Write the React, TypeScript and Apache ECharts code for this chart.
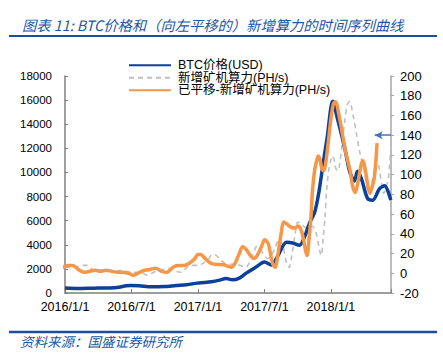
import React, { useEffect, useRef } from "react";
import * as echarts from "echarts";

const TITLE = "图表 11: BTC价格和（向左平移的）新增算力的时间序列曲线";
const SOURCE = "资料来源：国盛证券研究所";

const SERIES_NAMES = ["BTC价格(USD)", "新增矿机算力(PH/s)", "已平移-新增矿机算力(PH/s)"];

// BTC price (USD), left axis
const priceDates = [
  "2016-01-01", "2016-02-08", "2016-03-18", "2016-04-30", "2016-05-28", "2016-06-16", "2016-06-30",
  "2016-07-22", "2016-08-27", "2016-09-30", "2016-11-02", "2016-11-30", "2016-12-30", "2017-01-18",
  "2017-02-07", "2017-02-28", "2017-03-18", "2017-04-04", "2017-04-23", "2017-05-12", "2017-06-09",
  "2017-07-01", "2017-07-20", "2017-08-06", "2017-09-01", "2017-09-17", "2017-10-06", "2017-10-20",
  "2017-11-03", "2017-11-17", "2017-11-28", "2017-12-09", "2017-12-22", "2018-01-06", "2018-01-19",
  "2018-02-08", "2018-02-21", "2018-03-05", "2018-03-13", "2018-03-24", "2018-04-10", "2018-04-24",
  "2018-05-13", "2018-05-27", "2018-06-13",
];
const priceValues = [
  420, 380, 400, 420, 480, 600, 620,
  600, 520, 540, 620, 680, 820, 870,
  940, 1070, 1200, 1100, 1240, 1650, 2170,
  2580, 2320, 3000, 4200, 4150, 3960, 4650,
  5800, 6700, 8300, 10500, 13000, 15900, 14500,
  12000, 10000, 9300, 10100, 9500, 7850, 7700,
  8650, 8900, 7700,
];

// New mining hash rate (PH/s), right axis
const hashDates = [
  "2016-01-01", "2016-01-15", "2016-02-01", "2016-02-15", "2016-03-01", "2016-03-15", "2016-04-01",
  "2016-04-15", "2016-05-01", "2016-05-15", "2016-06-01", "2016-06-15", "2016-07-01", "2016-07-15",
  "2016-08-01", "2016-08-15", "2016-09-01", "2016-09-15", "2016-10-01", "2016-10-15", "2016-11-01",
  "2016-11-15", "2016-12-01", "2016-12-15",
  "2017-01-01", "2017-01-15", "2017-02-01", "2017-02-08", "2017-02-15", "2017-03-01", "2017-03-15",
  "2017-04-01", "2017-04-15", "2017-05-01", "2017-05-10", "2017-05-20", "2017-06-01", "2017-06-10",
  "2017-06-20", "2017-07-01", "2017-07-10", "2017-07-20", "2017-08-01", "2017-08-10", "2017-08-20",
  "2017-09-01", "2017-09-08", "2017-09-15", "2017-09-25", "2017-10-01", "2017-10-10", "2017-10-20",
  "2017-11-01", "2017-11-10", "2017-11-20", "2017-12-01", "2017-12-05", "2017-12-10", "2017-12-15",
  "2017-12-20", "2017-12-26",
  "2018-01-01", "2018-01-05", "2018-01-10", "2018-01-15", "2018-01-20", "2018-01-25", "2018-02-01",
  "2018-02-08", "2018-02-15", "2018-02-20", "2018-03-01", "2018-03-10", "2018-03-20", "2018-04-01",
  "2018-04-08", "2018-04-15", "2018-04-22", "2018-05-01", "2018-05-06", "2018-05-12", "2018-05-20",
  "2018-05-25", "2018-06-01", "2018-06-07", "2018-06-14",
];
const hashValues = [
  6, 6, 6, 8, 8, 4, 1,
  2, 3, 2, 3, 2, 1, 1,
  0, -2, 1, 3, 4, 5, 2,
  1, 6, 8,
  8, 10, 15, 19, 19, 14, 10,
  9, 9, 7, 6, 10, 20, 27,
  24, 18, 15, 18, 27, 34, 30,
  10, 6, 18, 42, 52, 50, 47,
  46, 48, 42, 22, 18, 35, 55,
  85, 105,
  115, 119, 115, 106, 104, 110, 130,
  155, 172, 174, 160, 142, 122, 104,
  88, 82, 92, 110, 114, 106, 88,
  81, 88, 98, 132,
];

// shift to the left applied to the hash-rate series (months)
const SHIFT_MONTHS = 1.27;
// x-axis extent in months since 2016/1/1
const X_MIN = 0;
const X_MAX = 29.42;
// annotation arrow at right-axis value
const ARROW_VALUE = 140;
const ARROW_FROM = 29.42;
const ARROW_TO = 27.95;

const toMonth = (s: string) => {
  const [y, m, d] = s.split("-").map(Number);
  const dim = new Date(y, m, 0).getDate();
  return (y - 2016) * 12 + (m - 1) + (d - 1) / dim;
};

const CJK = '"Noto Sans CJK SC", sans-serif';
const LATIN = '"Liberation Sans", Arial, "Noto Sans CJK SC", sans-serif';

export default function App() {
  const ref = useRef<HTMLDivElement>(null);
  useEffect(() => {
    const chart = echarts.init(ref.current!, null, { renderer: "svg" });
    const priceData = priceDates.map((d, i) => [toMonth(d), priceValues[i]]);
    const hashData = hashDates.map((d, i) => [toMonth(d), hashValues[i]]);
    const shiftedData = hashDates.map((d, i) => [toMonth(d) - SHIFT_MONTHS, hashValues[i]]);

    chart.setOption({
      animation: false,
      backgroundColor: "#ffffff",
      textStyle: { fontFamily: LATIN },
      title: {
        text: TITLE,
        left: 17,
        top: 12,
        textStyle: {
          fontSize: 14.3,
          fontStyle: "italic",
          fontWeight: "normal",
          color: "#2157A5",
          fontFamily: CJK,
        },
      },
      graphic: [
        { type: "line", shape: { x1: 9, y1: 36, x2: 437, y2: 36 }, style: { stroke: "#1C4E9C", lineWidth: 2 } },
        { type: "line", shape: { x1: 9, y1: 332, x2: 437, y2: 332 }, style: { stroke: "#1C4E9C", lineWidth: 2.5 } },
        {
          type: "text",
          left: 20,
          top: 334,
          style: { text: SOURCE, fontSize: 13.5, fontStyle: "italic", fill: "#2157A5", fontFamily: CJK },
        },
      ],
      legend: {
        data: SERIES_NAMES,
        orient: "vertical",
        left: 123,
        top: 54,
        itemWidth: 42,
        itemHeight: 10,
        itemGap: 0,
        itemStyle: { opacity: 0 },
        textStyle: { fontSize: 12.5, color: "#000", fontFamily: LATIN, padding: [0, 0, 0, 2] },
      },
      grid: { left: 65, right: 52, top: 76, bottom: 70 },
      xAxis: {
        type: "value",
        min: X_MIN,
        max: X_MAX,
        interval: 6,
        axisLine: { lineStyle: { color: "#7f7f7f", width: 1.5 } },
        axisTick: { inside: true, length: 4, lineStyle: { color: "#7f7f7f" } },
        axisLabel: {
          fontSize: 12.5,
          color: "#000",
          margin: 8,
          formatter: (v: number) => {
            const k = v / 6;
            if (Math.abs(k - Math.round(k)) > 1e-6) return "";
            const y = 2016 + Math.floor(v / 12);
            const m = (Math.round(v) % 12) + 1;
            return `${y}/${m}/1`;
          },
        },
        splitLine: { show: false },
      },
      yAxis: [
        {
          type: "value",
          min: 0,
          max: 18000,
          interval: 2000,
          axisLine: { show: true, lineStyle: { color: "#808080", width: 1.5 } },
          axisTick: { show: true, inside: true, length: 3, lineStyle: { color: "#808080" } },
          axisLabel: { fontSize: 11.5, color: "#000", margin: 13, formatter: (v: number) => String(v) },
          splitLine: { show: false },
        },
        {
          type: "value",
          min: -20,
          max: 200,
          interval: 20,
          position: "right",
          axisLine: { show: true, lineStyle: { color: "#a6a6a6", width: 1.5 } },
          axisTick: { show: true, length: 3, lineStyle: { color: "#a6a6a6" } },
          axisLabel: { fontSize: 13, color: "#000", margin: 9, formatter: (v: number) => String(v) },
          splitLine: { show: false },
        },
      ],
      series: [
        {
          name: SERIES_NAMES[1],
          type: "line",
          yAxisIndex: 1,
          data: hashData,
          smooth: 0.3,
          symbol: "none",
          z: 2,
          lineStyle: { color: "#BFBFBF", width: 1.6, type: [5, 4] },
          itemStyle: { color: "#BFBFBF" },
        },
        {
          name: SERIES_NAMES[0],
          type: "line",
          yAxisIndex: 0,
          data: priceData,
          smooth: 0.3,
          symbol: "none",
          z: 3,
          lineStyle: { color: "#0B4199", width: 3.5 },
          itemStyle: { color: "#0B4199" },
        },
        {
          name: SERIES_NAMES[2],
          type: "line",
          yAxisIndex: 1,
          data: shiftedData,
          smooth: 0.3,
          symbol: "none",
          z: 4,
          lineStyle: { color: "#F79646", width: 3.5 },
          itemStyle: { color: "#F79646" },
          markLine: {
            silent: true,
            symbol: ["none", "arrow"],
            symbolSize: [6, 8],
            label: { show: false },
            lineStyle: { color: "#4472C4", width: 1.5, type: "solid" },
            data: [[{ coord: [ARROW_FROM, ARROW_VALUE] }, { coord: [ARROW_TO, ARROW_VALUE] }]],
          },
        },
      ],
    });
    return () => chart.dispose();
  }, []);
  return (
    <div
      ref={ref}
      style={{ position: "fixed", left: 0, top: 0, width: 443, height: 363, background: "#fff" }}
    />
  );
}
